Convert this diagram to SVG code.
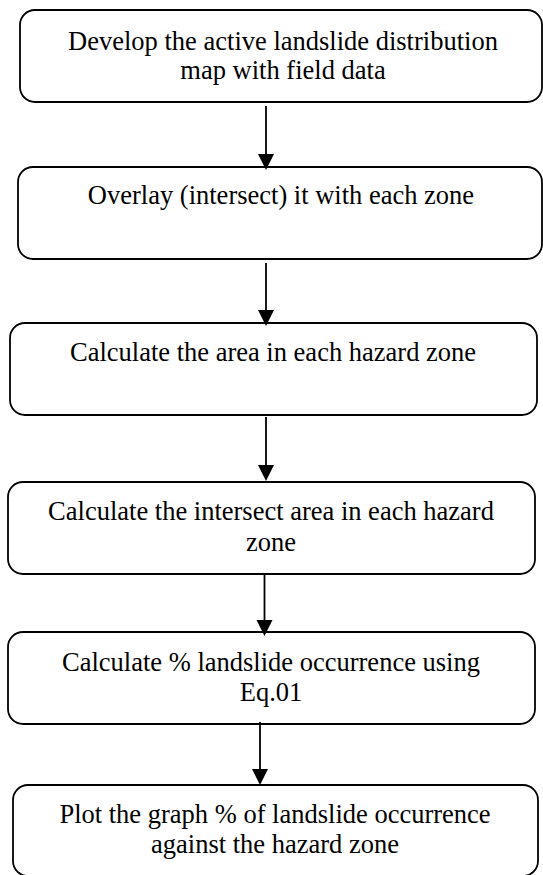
<svg xmlns="http://www.w3.org/2000/svg" width="543" height="875" viewBox="0 0 543 875">
<style>
.box{fill:#fff;stroke:#000;stroke-width:1.8}
.t{font-family:"Liberation Serif","Times New Roman",serif;font-size:26.5px;fill:#000;text-anchor:middle}
.c line{stroke:#000;stroke-width:1.8}
.c polygon{fill:#000}
</style>
<rect width="543" height="875" fill="#fff"/>
<g id="n1"><rect class="box" x="20" y="10" width="522" height="92" rx="15"/>
<text class="t" x="283" y="50">Develop the active landslide distribution</text>
<text class="t" x="283" y="79">map with field data</text></g>
<g id="n2"><rect class="box" x="18" y="167" width="524" height="92" rx="15"/>
<text class="t" x="281" y="204">Overlay (intersect) it with each zone</text></g>
<g id="n3"><rect class="box" x="10" y="323" width="527" height="92" rx="15"/>
<text class="t" x="273" y="361">Calculate the area in each hazard zone</text></g>
<g id="n4"><rect class="box" x="8" y="482" width="527" height="92" rx="15"/>
<text class="t" x="271" y="520">Calculate the intersect area in each hazard</text>
<text class="t" x="271" y="551">zone</text></g>
<g id="n5"><rect class="box" x="8" y="632" width="527" height="92" rx="15"/>
<text class="t" x="271" y="671">Calculate % landslide occurrence using</text>
<text class="t" x="271" y="701">Eq.01</text></g>
<g id="n6"><rect class="box" x="13" y="785" width="525" height="91" rx="15"/>
<text class="t" x="275" y="823">Plot the graph % of landslide occurrence</text>
<text class="t" x="275" y="853">against the hazard zone</text></g>
<g id="connectors" class="c">
<line x1="266" y1="106" x2="266" y2="155"/><polygon points="258,154 274,154 266,170"/>
<line x1="266" y1="263" x2="266" y2="311"/><polygon points="258,310 274,310 266,326"/>
<line x1="266" y1="417" x2="266" y2="466"/><polygon points="258,465 274,465 266,481"/>
<line x1="264.5" y1="573" x2="264.5" y2="621"/><polygon points="256.5,620 272.5,620 264.5,636"/>
<line x1="260" y1="722" x2="260" y2="770"/><polygon points="252,769 268,769 260,785"/>
</g>
</svg>
